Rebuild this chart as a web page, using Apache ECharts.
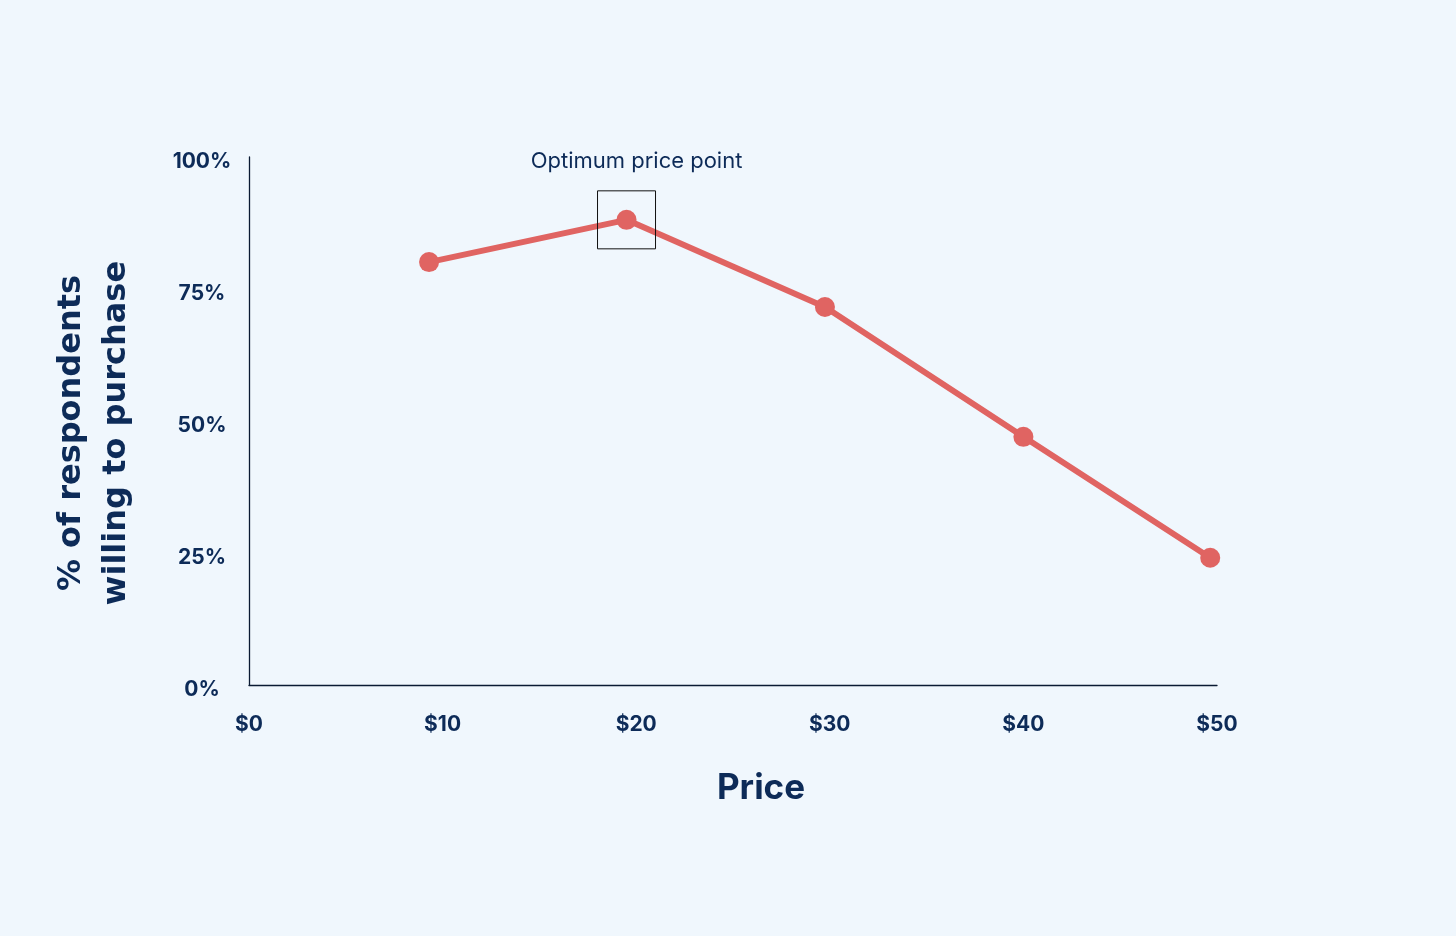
<!DOCTYPE html>
<html>
<head>
<meta charset="utf-8">
<style>
html,body{margin:0;padding:0;background:#f0f7fd;}
#chart{width:1456px;height:936px;}
</style>
<script src="https://cdn.jsdelivr.net/npm/echarts@6/dist/echarts.min.js"></script>
</head>
<body>
<div id="chart"></div>
<script>
// Data
const prices = [9.3, 19.5, 29.75, 40.0, 49.65];          // $ (x)
const willingness = [80.1, 88.1, 71.6, 47.0, 24.1];      // % respondents (y)
const xTicks = [0, 10, 20, 30, 40, 50];
const yTicks = [0, 25, 50, 75, 100];
const optimumIndex = 1;
const annotationText = 'Optimum price point';
const xTitle = 'Price';
const yTitle = '% of respondents\nwilling to purchase';

const navy = '#0d2b58';
const red = '#e06462';
const font = 'Inter, Roboto, "Noto Sans", sans-serif';
const titleFont = '"DejaVu Sans", Inter, sans-serif';

const chart = echarts.init(document.getElementById('chart'), null, {renderer: 'canvas'});
chart.setOption({
  backgroundColor: '#f0f7fd',
  animation: false,
  grid: {left: 249, right: 239, top: 157, bottom: 251, containLabel: false},
  xAxis: {
    type: 'value',
    min: xTicks[0], max: xTicks[xTicks.length - 1], interval: 10,
    axisLine: {show: true, onZero: false, lineStyle: {color: '#0a1a33', width: 1.3}},
    axisTick: {show: false},
    splitLine: {show: false},
    axisLabel: {
      margin: 29, color: navy, fontFamily: font, fontWeight: 'bold', fontSize: 21,
      formatter: v => '$' + v
    },
    name: xTitle, nameLocation: 'middle', nameGap: 84,
    nameTextStyle: {color: navy, fontFamily: font, fontWeight: 'bold', fontSize: 35, lineHeight: 38, padding: [0, 0, 0, 56]}
  },
  yAxis: {
    type: 'value',
    min: yTicks[0], max: yTicks[yTicks.length - 1], interval: 25,
    axisLine: {show: true, lineStyle: {color: '#0a1a33', width: 1.3}},
    axisTick: {show: false},
    splitLine: {show: false},
    axisLabel: {
      margin: 47, align: 'center', verticalAlign: 'top', lineHeight: 9,
      color: navy, fontFamily: font, fontWeight: 'bold', fontSize: 21,
      formatter: v => v + '%'
    },
    name: yTitle, nameLocation: 'middle', nameRotate: 90, nameGap: 110,
    nameTextStyle: {color: navy, fontFamily: titleFont, fontWeight: 'bold', fontSize: 32, lineHeight: 45, align: 'center', padding: [0, 24, 0, 0]}
  },
  series: [{
    type: 'line',
    data: prices.map((p, i) => [p, willingness[i]]),
    symbol: 'circle', symbolSize: 20,
    lineStyle: {color: red, width: 6},
    itemStyle: {color: red},
    markPoint: {
      symbol: 'rect', symbolSize: 58,
      itemStyle: {color: 'rgba(0,0,0,0)', borderColor: '#111', borderWidth: 1},
      label: {
        show: true, position: 'top', distance: 18,
        formatter: annotationText, padding: [0, 0, 0, 20],
        color: navy, fontFamily: font, fontSize: 22, fontWeight: 'normal'
      },
      data: [{coord: [prices[optimumIndex], willingness[optimumIndex]]}]
    }
  }]
});
</script>
</body>
</html>
